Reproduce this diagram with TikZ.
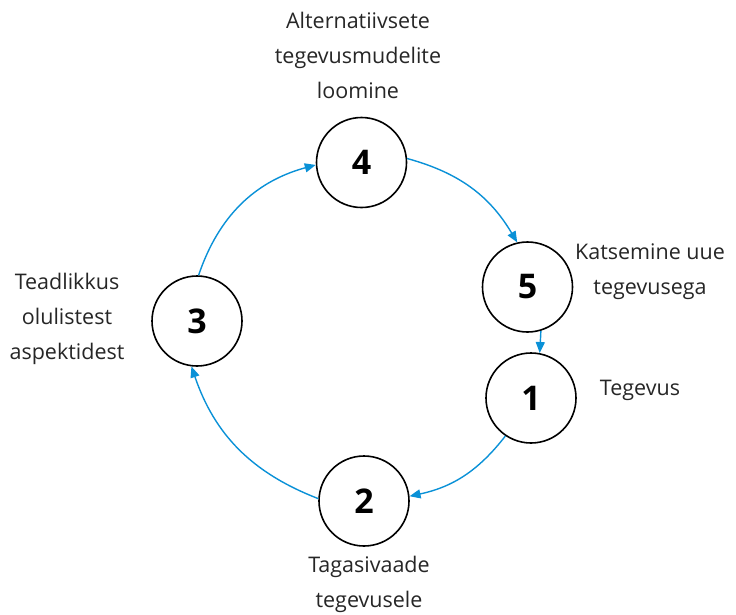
\documentclass[tikz,border=0pt]{standalone}
\usepackage{fontspec}
\setmainfont{Open Sans}
\usetikzlibrary{arrows.meta}
\definecolor{arrowblue}{RGB}{10,145,215}
\begin{document}
\begin{tikzpicture}[x=1pt,y=-1pt,
  stage/.style={circle,draw=black,line width=1.6pt,minimum size=90pt,inner sep=0pt,font=\fontsize{34}{34}\selectfont\bfseries},
  lbl/.style={align=center,font=\fontsize{21.5}{35}\selectfont,text=black!85},
  conn/.style={draw=arrowblue,line width=1.4pt,-{Triangle[length=11pt,width=9pt]}}]
\useasboundingbox (0,0) rectangle (736,614);
\node[stage] (n4) at (361.5,162.5) {4};
\node[stage] (n5) at (527.5,287) {5};
\node[stage] (n1) at (531,398) {1};
\node[stage] (n2) at (364,501) {2};
\node[stage] (n3) at (197,321) {3};
\node[lbl] (t4) at (358,55) {Alternatiivsete\\tegevusmudelite\\loomine};
\node[lbl] (t5) at (650,272) {Katsemine uue\\tegevusega};
\node[lbl] (t1) at (640,390) {Tegevus};
\node[lbl] (t2) at (369,584) {Tagasivaade\\tegevusele};
\node[lbl] (t3) at (67,319) {Teadlikkus\\olulistest\\aspektidest};
\draw[conn] (n3.88) to[bend left=28] (n4.183);
\draw[conn] (n4.5) to[bend left=22] (n5.103);
\draw[conn] (n5.-73) -- (n1.79);
\draw[conn] (n1.-124) to[bend left=20] (n2.6);
\draw[conn] (n2.177) to[bend left=25] (n3.-97);
\end{tikzpicture}
\end{document}
